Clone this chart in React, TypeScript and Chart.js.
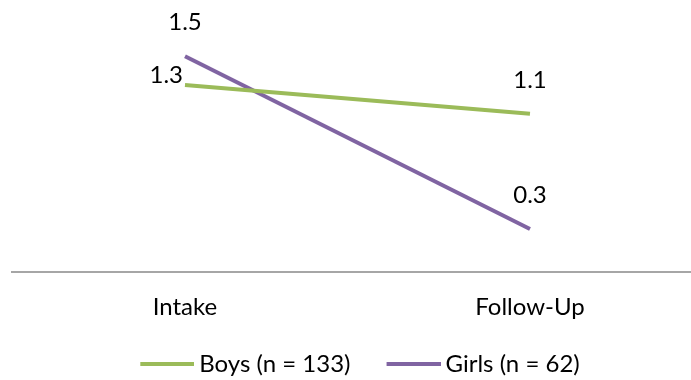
import React, { useEffect, useRef } from "react";
import { Chart, registerables } from "chart.js";

Chart.register(...registerables);

const categories = ["Intake", "Follow-Up"];
const boysValues = [1.3, 1.1];
const girlsValues = [1.5, 0.3];
const seriesNames = ["Boys (n = 133)", "Girls (n = 62)"];
const seriesColors = ["#9BBB59", "#8064A2"];
const labelPlacement = [
  ["left", "above"],
  ["above", "above"],
];

const FONT = "Lato, 'Open Sans', sans-serif";

const valueLabels = {
  id: "valueLabels",
  afterDatasetsDraw(chart: any) {
    const ctx = chart.ctx;
    ctx.save();
    ctx.font = `24px ${FONT}`;
    ctx.fillStyle = "#000";
    ctx.textBaseline = "middle";
    chart.data.datasets.forEach((ds: any, di: number) => {
      const meta = chart.getDatasetMeta(di);
      meta.data.forEach((pt: any, i: number) => {
        const v = ds.data[i].y;
        const place = labelPlacement[di][i];
        const txt = v.toFixed(1);
        if (place === "left") {
          ctx.textAlign = "right";
          ctx.fillText(txt, pt.x - 2, pt.y - 10);
        } else {
          ctx.textAlign = "center";
          ctx.fillText(txt, pt.x, pt.y - 34);
        }
      });
    });
    ctx.restore();
  },
};

function legendSwatch(color: string) {
  const c = document.createElement("canvas");
  c.width = 78;
  c.height = 4;
  const g = c.getContext("2d")!;
  g.fillStyle = color;
  g.fillRect(24, 0, 54, 4);
  return c;
}

export default function App() {
  const ref = useRef<HTMLCanvasElement>(null);
  useEffect(() => {
    if (!ref.current) return;
    const swatches = seriesColors.map(legendSwatch);
    const mk = (vals: number[]) => vals.map((v, i) => ({ x: i, y: v }));
    const chart = new Chart(ref.current, {
      type: "line",
      data: {
        datasets: [
          {
            label: seriesNames[0],
            data: mk(boysValues),
            borderColor: seriesColors[0],
            backgroundColor: seriesColors[0],
            borderWidth: 4,
            pointRadius: 0,
            tension: 0,
          },
          {
            label: seriesNames[1],
            data: mk(girlsValues),
            borderColor: seriesColors[1],
            backgroundColor: seriesColors[1],
            borderWidth: 4,
            pointRadius: 0,
            tension: 0,
          },
        ],
      },
      options: {
        animation: false,
        responsive: false,
        layout: { padding: { left: 12, right: 0, top: 13, bottom: -6 } },
        scales: {
          x: {
            type: "linear",
            min: -0.5014,
            max: 1.4667,
            afterBuildTicks: (axis: any) => {
              axis.ticks = categories.map((_, i) => ({ value: i }));
            },
            afterFit: (axis: any) => {
              axis.height -= 10;
            },
            grid: { display: false, drawTicks: false },
            border: { display: true, color: "#A6A6A6", width: 2 },
            ticks: {
              padding: 21,
              autoSkip: false,
              maxRotation: 0,
              color: "#000",
              font: { family: FONT, size: 24 },
              callback: (v: any) => categories[v] ?? "",
            },
          },
          y: {
            display: false,
            min: 0,
            max: 1.8,
          },
        },
        plugins: {
          tooltip: { enabled: false },
          legend: {
            position: "bottom",
            labels: {
              usePointStyle: true,
              pointStyleWidth: 64,
              boxHeight: 4,
              padding: 19,
              color: "#000",
              font: { family: FONT, size: 24 },
              generateLabels: (c: any) =>
                Chart.defaults.plugins.legend.labels
                  .generateLabels(c)
                  .map((it: any, i: number) => ({ ...it, pointStyle: swatches[i], lineWidth: 0 })),
            },
          },
        },
      },
      plugins: [valueLabels],
    });
    return () => chart.destroy();
  }, []);
  return (
    <div style={{ position: "fixed", left: 0, top: 0, width: 691, height: 380, background: "#fff" }}>
      <canvas ref={ref} width={691} height={380} style={{ display: "block" }} />
    </div>
  );
}
